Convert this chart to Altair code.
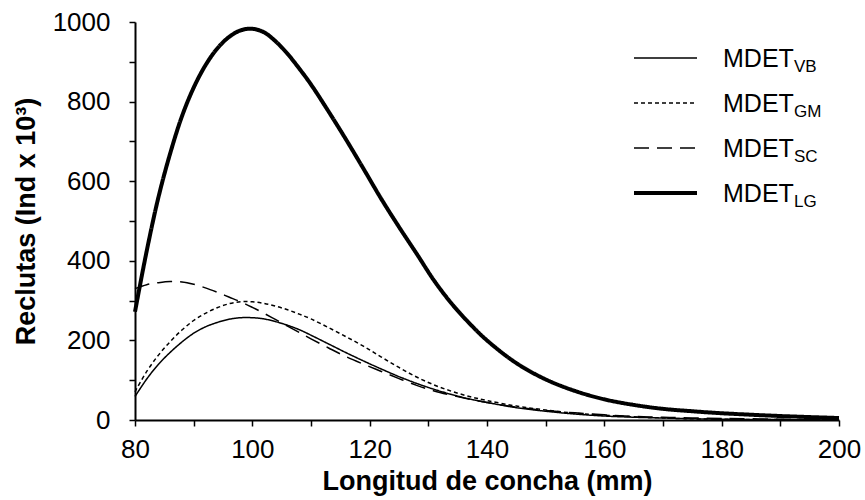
import altair as alt
import pandas as pd

# shell length (mm)
x_vals = [80, 82, 84, 86, 88, 90, 92, 94, 96, 98, 100, 102, 104, 106, 108, 110,
          113, 116, 119, 122, 125, 128, 131, 134, 137, 140, 145, 150, 155, 160,
          165, 170, 175, 180, 190, 200]

vb = [59, 103, 140, 170, 196, 218, 234, 245, 253, 257, 257, 254, 247, 238, 227, 213,
      191, 169, 148, 128, 109, 92, 77, 64, 53, 44, 31, 22, 15, 10,
      7, 5, 3, 2, 1, 0]
gm = [71, 122, 163, 197, 226, 250, 268, 282, 292, 297, 297, 293, 286, 277, 266, 254,
      232, 209, 185, 158, 132, 108, 88, 72, 59, 49, 35, 25, 17, 12,
      8, 5, 3, 2, 1, 0]
sc = [330, 340, 345, 348, 347, 341, 332, 321, 309, 297, 283, 268, 252, 236, 220, 204,
      181, 159, 140, 122, 104, 87, 73, 62, 52, 44, 32, 24, 18, 13,
      9, 7, 5, 4, 2, 1]
lg = [272, 425, 560, 670, 763, 835, 891, 933, 962, 979, 983, 974, 951, 920, 883, 843,
      775, 704, 630, 555, 485, 418, 350, 292, 243, 200, 143, 102, 73, 52,
      38, 28, 22, 17, 10, 5]

series_keys = ["VB", "GM", "SC", "LG"]
series_vals = [vb, gm, sc, lg]
legend_main = "MDET"

x_ticks = list(range(80, 201, 10))
y_ticks = list(range(0, 1001, 100))

styles = {
    "VB": dict(strokeWidth=1.5, strokeDash=[1, 0]),
    "GM": dict(strokeWidth=1.5, strokeDash=[4, 3]),
    "SC": dict(strokeWidth=1.5, strokeDash=[15, 8]),
    "LG": dict(strokeWidth=4, strokeDash=[1, 0]),
}

FONT = "Liberation Sans"
W, H = 704, 398

layers = []
for key, vals in zip(series_keys, series_vals):
    df = pd.DataFrame({"x": x_vals, "y": vals})
    layers.append(
        alt.Chart(df).mark_line(color="black", interpolate="catmull-rom", **styles[key]).encode(
            x=alt.X("x:Q",
                    scale=alt.Scale(domain=[80, 200], nice=False, zero=False),
                    axis=alt.Axis(values=x_ticks, format="d",
                                  labelExpr="datum.value % 20 == 0 ? datum.label : ''",
                                  title="Longitud de concha (mm)",
                                  titlePadding=6)),
            y=alt.Y("y:Q",
                    scale=alt.Scale(domain=[0, 1000], nice=False),
                    axis=alt.Axis(values=y_ticks, format="d",
                                  labelExpr="datum.value % 200 == 0 ? datum.label : ''",
                                  title="Reclutas (Ind x 10³)",
                                  titlePadding=12)),
        )
    )

# manual legend (subscripts)
dummy = pd.DataFrame({"a": [0]})
row_y = [36, 81, 126, 171]
for key, ry in zip(series_keys, row_y):
    layers.append(
        alt.Chart(dummy).mark_rule(color="black", **styles[key]).encode(
            x=alt.value(499), x2=alt.value(562), y=alt.value(ry)
        )
    )
    layers.append(
        alt.Chart(dummy).mark_text(text=legend_main, font=FONT, fontSize=25, align="left",
                                   baseline="middle", color="black").encode(
            x=alt.value(588), y=alt.value(ry + 1)
        )
    )
    layers.append(
        alt.Chart(dummy).mark_text(text=key, font=FONT, fontSize=17, align="left",
                                   baseline="middle", color="black").encode(
            x=alt.value(659), y=alt.value(ry + 9)
        )
    )

chart = alt.layer(*layers).properties(
    width=W, height=H,
    padding={"left": 135, "top": 22, "right": 26, "bottom": 80},
    autosize=alt.AutoSizeParams(type="none"),
).configure_view(stroke=None).configure_axis(
    grid=False, labelFlush=False, labelOverlap=False,
    domainColor="black", domainWidth=2,
    tickColor="black", tickWidth=1.5, tickSize=6,
    labelFont=FONT, labelFontSize=26, labelColor="black",
    titleFont=FONT, titleFontSize=27, titleFontWeight="bold", titleColor="black",
).configure_axisX(labelPadding=10).configure_axisY(labelPadding=19)

chart.save("out.html", embed_options={"renderer": "svg", "actions": False})
